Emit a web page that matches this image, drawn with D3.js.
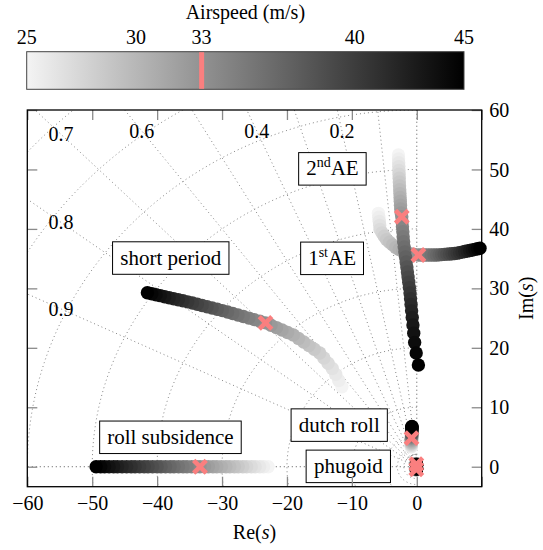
<!DOCTYPE html>
<html>
<head>
<meta charset="utf-8">
<script src="https://cdn.jsdelivr.net/npm/d3@7"></script>
<style>
  html, body { margin: 0; padding: 0; background: #fff; }
  svg { display: block; font-family: "Liberation Serif", "DejaVu Serif", serif; }
</style>
</head>
<body>
<svg id="chart" width="543" height="550"></svg>
<script>
// Airspeed sweep (m/s) shared by every eigenvalue branch
const airspeed = [25, 25.5, 26, 26.5, 27, 27.5, 28, 28.5, 29, 29.5, 30, 30.5, 31, 31.5, 32, 32.5,
  33, 33.5, 34, 34.5, 35, 35.5, 36, 36.5, 37, 37.5, 38, 38.5, 39, 39.5, 40, 40.5,
  41, 41.5, 42, 42.5, 43, 43.5, 44, 44.5, 45];
const designSpeed = 33;

// Roll subsidence (real pole)
const rollRe = [-22.9, -23.6, -24.2, -24.9, -25.5, -26.2, -26.8, -27.5, -28.1, -28.8, -29.4, -30.1, -30.8, -31.4, -32.1,
  -32.7, -33.4, -34.0, -34.7, -35.4, -36.0, -36.7, -37.4, -38.0, -38.7, -39.4, -40.0, -40.7, -41.4, -42.0,
  -42.7, -43.4, -44.0, -44.7, -45.4, -46.1, -46.7, -47.4, -48.1, -48.7, -49.4];
const rollIm = [0, 0, 0, 0, 0, 0, 0, 0, 0, 0, 0, 0, 0, 0, 0, 0, 0, 0, 0, 0, 0,
  0, 0, 0, 0, 0, 0, 0, 0, 0, 0, 0, 0, 0, 0, 0, 0, 0, 0, 0, 0];

// Short period
const spRe = [-11.54, -12.02, -12.49, -13.02, -13.67, -14.31, -14.96, -15.79, -16.61, -17.42, -18.22, -19.02, -19.90,
  -20.76, -21.61, -22.46, -23.30, -24.17, -25.03, -25.87, -26.71, -27.54, -28.35, -29.15, -29.95, -30.74,
  -31.53, -32.30, -33.07, -33.81, -34.56, -35.30, -36.03, -36.75, -37.46, -38.15, -38.84, -39.51, -40.17, -40.83, -41.50];
const spIm = [13.46, 14.51, 15.54, 16.52, 17.41, 18.29, 19.13, 19.75, 20.37, 20.98, 21.58, 22.17, 22.58, 23.00,
  23.40, 23.80, 24.20, 24.48, 24.74, 25.00, 25.26, 25.52, 25.77, 26.02, 26.26, 26.49, 26.70, 26.91, 27.12,
  27.32, 27.53, 27.73, 27.91, 28.09, 28.26, 28.43, 28.60, 28.77, 28.93, 29.10, 29.26];

// 1st aeroelastic mode
const ae1Re = [-5.91, -5.85, -5.78, -5.72, -5.66, -5.36, -5.01, -4.66, -4.20, -3.72, -3.24, -2.71, -2.15, -1.60, -0.99,
  -0.37, 0.25, 0.65, 1.05, 1.45, 1.85, 2.25, 2.65, 3.05, 3.45, 3.84, 4.24, 4.64, 5.04, 5.43, 5.83, 6.23, 6.60,
  6.99, 7.39, 7.78, 8.17, 8.56, 8.96, 9.35, 9.74];
const ae1Im = [42.62, 41.95, 41.27, 40.60, 39.92, 39.34, 38.77, 38.20, 37.75, 37.32, 36.89, 36.54, 36.24, 35.93,
  35.81, 35.71, 35.61, 35.61, 35.61, 35.61, 35.61, 35.61, 35.61, 35.61, 35.64, 35.68, 35.72, 35.76, 35.79,
  35.83, 35.87, 35.92, 36.01, 36.10, 36.19, 36.28, 36.37, 36.46, 36.56, 36.65, 36.74];

// 2nd aeroelastic mode
const ae2Re = [-2.83, -2.81, -2.79, -2.77, -2.75, -2.73, -2.71, -2.69, -2.66, -2.63, -2.60, -2.57, -2.54, -2.51, -2.48,
  -2.40, -2.31, -2.26, -2.21, -2.15, -2.10, -2.03, -1.94, -1.84, -1.74, -1.64, -1.53, -1.44, -1.34, -1.24,
  -1.14, -1.04, -0.96, -0.88, -0.80, -0.70, -0.59, -0.47, -0.33, -0.09, 0.25];
const ae2Im = [52.43, 51.78, 51.13, 50.48, 49.84, 49.19, 48.54, 47.89, 47.24, 46.59, 45.94, 45.29, 44.64, 43.99,
  43.34, 42.69, 42.05, 41.21, 40.36, 39.52, 38.67, 37.83, 36.98, 36.14, 35.29, 34.45, 33.60, 32.75, 31.89,
  31.02, 30.13, 29.22, 28.27, 27.28, 26.22, 25.09, 23.85, 22.47, 20.91, 19.14, 17.12];

// Dutch roll
const drRe = [-0.85, -0.85, -0.85, -0.84, -0.84, -0.84, -0.83, -0.83, -0.83, -0.83, -0.82, -0.82, -0.82, -0.82,
  -0.81, -0.81, -0.81, -0.81, -0.80, -0.80, -0.80, -0.80, -0.79, -0.79, -0.79, -0.79, -0.78, -0.78, -0.78,
  -0.78, -0.77, -0.77, -0.77, -0.77, -0.76, -0.76, -0.76, -0.76, -0.75, -0.75, -0.75];
const drIm = [3.30, 3.40, 3.50, 3.60, 3.69, 3.79, 3.89, 3.98, 4.08, 4.17, 4.27, 4.36, 4.45, 4.55, 4.64, 4.73,
  4.82, 4.91, 4.99, 5.08, 5.17, 5.26, 5.34, 5.43, 5.51, 5.60, 5.68, 5.76, 5.85, 5.93, 6.01, 6.09, 6.17,
  6.25, 6.32, 6.40, 6.48, 6.55, 6.63, 6.71, 6.78];

// Phugoid (upper pole of the conjugate pair)
const phRe = [-0.12, -0.12, -0.11, -0.11, -0.11, -0.10, -0.10, -0.10, -0.09, -0.09, -0.09, -0.09, -0.08, -0.08,
  -0.08, -0.08, -0.07, -0.07, -0.07, -0.07, -0.06, -0.06, -0.06, -0.06, -0.06, -0.05, -0.05, -0.05, -0.05,
  -0.05, -0.04, -0.04, -0.04, -0.04, -0.04, -0.03, -0.03, -0.03, -0.03, -0.03, -0.02];
const phIm = [0.56, 0.55, 0.54, 0.53, 0.52, 0.51, 0.50, 0.49, 0.48, 0.48, 0.47, 0.46, 0.45, 0.44, 0.44, 0.43,
  0.42, 0.42, 0.41, 0.40, 0.40, 0.39, 0.39, 0.38, 0.38, 0.37, 0.37, 0.36, 0.36, 0.35, 0.35, 0.35, 0.34,
  0.34, 0.33, 0.33, 0.33, 0.32, 0.32, 0.32, 0.31];

// Axis ticks
const xTicks = [-60, -50, -40, -30, -20, -10, 0, 10];
const xTickLabels = [-60, -50, -40, -30, -20, -10, 0];
const yTicks = [0, 10, 20, 30, 40, 50, 60];
const colorTicks = [25, 30, 33, 40, 45];

// s-plane grid: damping ratios and natural frequencies
const dampingLines = [0.1, 0.2, 0.3, 0.4, 0.5, 0.6, 0.7, 0.8, 0.9];
const dampingLabels = [0.2, 0.4, 0.6, 0.7, 0.8, 0.9];
const freqCircles = [2, 3, 5, 10, 20, 30, 40, 50, 60, 70, 80];

// Mode annotations: text and the box centre in the s-plane
const modeLabels = [
  { name: "short period", re: -37.9, im: 35.1 },
  { name: "2nd AE", re: -13.0, im: 50.1 },
  { name: "1st AE", re: -13.05, im: 35.05 },
  { name: "roll subsidence", re: -37.95, im: 4.95 },
  { name: "dutch roll", re: -11.95, im: 7.0 },
  { name: "phugoid", re: -10.55, im: 0.06 }
];

const svg = d3.select("#chart");
const x = d3.scaleLinear().domain([-60, 10]).range([27.3, 481.7]);
const y = d3.scaleLinear().domain([-3.36, 60]).range([486.7, 110]);
const shade = d3.scaleLinear().domain([25, 45]).range(["#f4f4f4", "#000000"]);
const accent = "#fa7f7f";
const markerR = 6.7;

// ---------- colour bar ----------
const cb = d3.scaleLinear().domain([25, 45]).range([26.7, 464]);
const cbTop = 51.7, cbBottom = 89.3;
const defs = svg.append("defs");
const grad = defs.append("linearGradient").attr("id", "cbGrad").attr("x1", "0%").attr("x2", "100%");
d3.range(0, 11).forEach(i => {
  const v = 25 + i * 2;
  grad.append("stop").attr("offset", (i * 10) + "%").attr("stop-color", shade(v));
});
svg.append("rect").attr("x", cb(25)).attr("y", cbTop).attr("width", cb(45) - cb(25)).attr("height", cbBottom - cbTop)
  .attr("fill", "url(#cbGrad)").attr("stroke", "#444").attr("stroke-width", 1);
svg.append("line").attr("x1", cb(designSpeed)).attr("x2", cb(designSpeed))
  .attr("y1", cbTop + 0.5).attr("y2", cbBottom - 0.5).attr("stroke", accent).attr("stroke-width", 5);
svg.append("g").selectAll("text").data(colorTicks).join("text")
  .attr("x", d => cb(d)).attr("y", 43.5).attr("text-anchor", "middle")
  .attr("font-size", 20).text(d => d);
svg.append("text").attr("x", (cb(25) + cb(45)) / 2).attr("y", 19).attr("text-anchor", "middle")
  .attr("font-size", 20).text("Airspeed (m/s)");

// ---------- plot area ----------
defs.append("clipPath").attr("id", "plotClip").append("rect")
  .attr("x", x(-60)).attr("y", y(60)).attr("width", x(10) - x(-60)).attr("height", y(-3.36) - y(60));

const grid = svg.append("g").attr("clip-path", "url(#plotClip)")
  .attr("fill", "none").attr("stroke", "#777").attr("stroke-width", 0.9).attr("stroke-dasharray", "1 3");
const line = d3.line().x(d => x(d[0])).y(d => y(d[1]));

// constant damping rays
dampingLines.forEach(z => {
  const r = 200;
  grid.append("path").attr("d", line([[0, 0], [-z * r, Math.sqrt(1 - z * z) * r]]));
});
// zeta = 0 and zeta = 1 boundaries
grid.append("path").attr("stroke", "#444").attr("d", line([[0, 0], [0, 60]]));
grid.append("path").attr("stroke", "#444").attr("d", line([[0, 0], [-60, 0]]));
// constant natural frequency arcs (left half plane)
freqCircles.forEach(w => {
  const pts = d3.range(90, 270.5, 1).map(a => [w * Math.cos(a * Math.PI / 180), w * Math.sin(a * Math.PI / 180)]);
  grid.append("path").attr("d", line(pts));
});

// damping labels, placed where each ray meets the inner margin
const labTopY = y.invert(131), labLeftX = x.invert(61);
svg.append("g").selectAll("text").data(dampingLabels).join("text")
  .attr("font-size", 20).attr("text-anchor", "middle")
  .each(function (z) {
    const k = z / Math.sqrt(1 - z * z);
    let re = -k * labTopY, im = labTopY;
    if (re < labLeftX) { re = labLeftX; im = -re / k; }
    d3.select(this).attr("x", x(re)).attr("y", y(im) + 7).text(z);
  });

// ---------- eigenvalue traces ----------
const modes = [
  { re: rollRe, im: rollIm, mirror: false },
  { re: spRe, im: spIm, mirror: false },
  { re: drRe, im: drIm, mirror: false },
  { re: phRe, im: phIm, mirror: true },
  { re: ae1Re, im: ae1Im, mirror: false },
  { re: ae2Re, im: ae2Im, mirror: false }
];
const traces = svg.append("g");
modes.forEach(m => {
  const pts = [];
  airspeed.forEach((v, i) => {
    pts.push({ v, re: m.re[i], im: m.im[i] });
    if (m.mirror) pts.push({ v, re: m.re[i], im: -m.im[i] });
  });
  traces.append("g").selectAll("circle").data(pts).join("circle")
    .attr("cx", d => x(d.re)).attr("cy", d => y(d.im)).attr("r", markerR)
    .attr("fill", d => shade(d.v));
});

// design-speed markers
const iDesign = airspeed.indexOf(designSpeed);
const crosses = [];
modes.forEach(m => {
  crosses.push([m.re[iDesign], m.im[iDesign]]);
  if (m.mirror) crosses.push([m.re[iDesign], -m.im[iDesign]]);
});
const cs = 6.3;
const crossG = svg.append("g").attr("stroke", accent).attr("stroke-width", 4.6);
crosses.forEach(c => {
  const cx = x(c[0]), cy = y(c[1]);
  crossG.append("line").attr("x1", cx - cs).attr("y1", cy - cs).attr("x2", cx + cs).attr("y2", cy + cs);
  crossG.append("line").attr("x1", cx - cs).attr("y1", cy + cs).attr("x2", cx + cs).attr("y2", cy - cs);
});

// ---------- mode annotations ----------
const annG = svg.append("g");
modeLabels.forEach(l => {
  const g = annG.append("g");
  const rect = g.append("rect").attr("fill", "#fff").attr("stroke", "#000").attr("stroke-width", 1);
  const t = g.append("text").attr("font-size", 21).attr("text-anchor", "middle")
    .attr("x", x(l.re)).attr("y", y(l.im) + 6.5);
  const sup = l.name.match(/^(\d)(st|nd) (.*)$/);
  if (sup) {
    t.append("tspan").text(sup[1]);
    t.append("tspan").attr("font-size", 14).attr("dy", -8).text(sup[2]);
    t.append("tspan").attr("dy", 8).text(sup[3]);
  } else {
    t.text(l.name);
  }
  const bb = t.node().getBBox();
  const w = bb.width + 15, h = 32.5;
  rect.attr("x", x(l.re) - w / 2).attr("y", y(l.im) - h / 2).attr("width", w).attr("height", h);
});

// ---------- axes ----------
const tickStyle = g => {
  g.select(".domain").remove();
  g.selectAll(".tick line").attr("stroke", "#8a8a8a").attr("stroke-width", 1.3);
};
svg.append("g").attr("transform", `translate(0,${y(-3.36)})`)
  .call(d3.axisBottom(x).tickValues(xTicks).tickSize(-10)
    .tickFormat(d => xTickLabels.includes(d) ? d3.format("d")(d) : ""))
  .call(tickStyle)
  .call(g => g.selectAll(".tick text").attr("y", 23.3).attr("dy", null)
    .attr("font-size", 20).attr("font-family", "Liberation Serif").attr("fill", "#000"));
svg.append("g").attr("transform", `translate(0,${y(60)})`)
  .call(d3.axisTop(x).tickValues(xTicks).tickSize(-10).tickFormat(""))
  .call(tickStyle);
svg.append("g").attr("transform", `translate(${x(-60)},0)`)
  .call(d3.axisLeft(y).tickValues(yTicks).tickSize(-10).tickFormat(""))
  .call(tickStyle);
svg.append("g").attr("transform", `translate(${x(10)},0)`)
  .call(d3.axisRight(y).tickValues(yTicks).tickSize(-10).tickFormat(d3.format("d")))
  .call(tickStyle)
  .call(g => g.selectAll(".tick text").attr("x", 7.5).attr("dy", "0.33em")
    .attr("font-size", 20).attr("font-family", "Liberation Serif").attr("fill", "#000"));

// frame
svg.append("rect").attr("x", x(-60)).attr("y", y(60)).attr("width", x(10) - x(-60)).attr("height", y(-3.36) - y(60))
  .attr("fill", "none").attr("stroke", "#000").attr("stroke-width", 1.3);

// axis titles
const xt = svg.append("text").attr("x", (x(-60) + x(10)) / 2).attr("y", 539).attr("text-anchor", "middle").attr("font-size", 20);
xt.append("tspan").text("Re(");
xt.append("tspan").attr("font-style", "italic").text("s");
xt.append("tspan").text(")");
const yt = svg.append("text").attr("transform", `translate(533,${(y(60) + y(-3.36)) / 2}) rotate(-90)`)
  .attr("text-anchor", "middle").attr("font-size", 20);
yt.append("tspan").text("Im(");
yt.append("tspan").attr("font-style", "italic").text("s");
yt.append("tspan").text(")");
</script>
</body>
</html>
